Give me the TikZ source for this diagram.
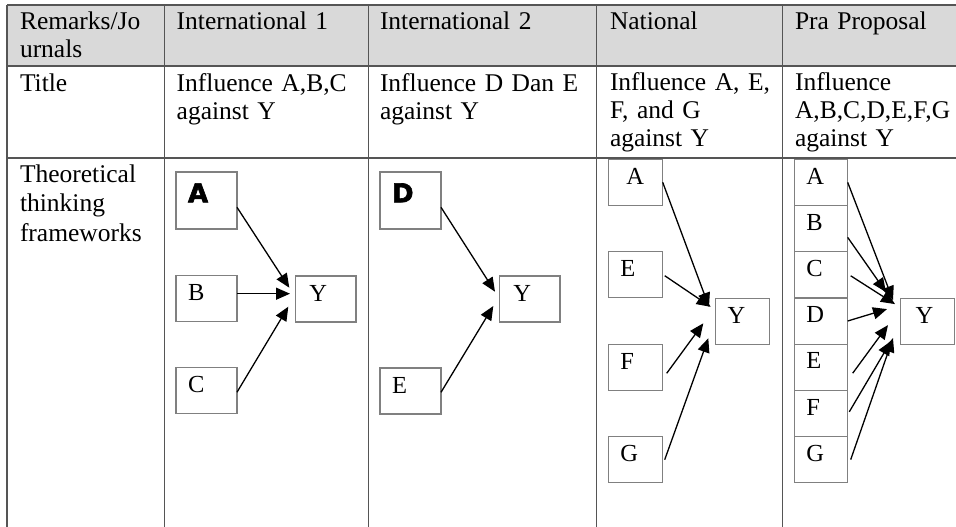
\documentclass[tikz,border=0pt]{standalone}
\usepackage{fontspec}
\setmainfont{Liberation Serif}
\newfontfamily\heavysans{DejaVu Sans}[BoldFeatures={FakeBold=2.5}]
\usetikzlibrary{arrows.meta}
\definecolor{rulegray}{HTML}{555555}
\definecolor{hdrgray}{HTML}{D9D9D9}
\definecolor{boxline}{HTML}{808080}
\tikzset{
  cell/.style={anchor=base west, inner sep=0pt, outer sep=0pt, text width=210pt, align=left,
    font=\fontsize{25.5}{27.8}\selectfont},
  vb/.style={draw=boxline, line width=1.2pt, anchor=north west, outer sep=0pt,
    inner xsep=12pt, inner ysep=0pt, text width=#1, align=left,
    text height=25pt, text depth=21pt, font=\fontsize{24.5}{28}\selectfont},
  hb/.style={vb=#1, text height=30.3pt, text depth=26.7pt, font=\heavysans\bfseries\fontsize{26}{28}\selectfont},
  sb/.style={vb=#1, text height=24.7pt, text depth=21.5pt},
  arr/.style={line width=1.3pt, -{Triangle[length=14pt,width=12pt]}},
  tline/.style={draw=rulegray, line width=1.3pt}
}
\begin{document}
\begin{tikzpicture}[x=1pt,y=-1pt]
\useasboundingbox (0,0) rectangle (956,527);
% header fill
\fill[hdrgray] (7,5) rectangle (956,66);
% table rules
\draw[tline] (7,5) -- (956,5);
\draw[tline] (7,66) -- (956,66);
\draw[tline] (7,158) -- (956,158);
\draw[tline] (7,5) -- (7,527);
\draw[tline] (164.5,5) -- (164.5,527);
\draw[tline] (368.3,5) -- (368.3,527);
\draw[tline] (596.5,5) -- (596.5,527);
\draw[tline] (782.3,5) -- (782.3,527);
% header texts
\node[cell] (h1) at (20,30) {Remarks/Jo\\urnals};
\node[cell] (h2) at (176.7,30) {International 1};
\node[cell] (h3) at (380,30) {International 2};
\node[cell] (h4) at (610,30) {National};
\node[cell] (h5) at (795,30) {Pra Proposal};
% title row
\node[cell] (t1) at (20,91.5) {Title};
\node[cell] (t2) at (176.7,91.5) {Influence A,B,C\\against Y};
\node[cell] (t3) at (380,91.5) {Influence D Dan E\\against Y};
\node[cell] (t4) at (610,91) {Influence A, E,\\F, and G\\against Y};
\node[cell] (t5) at (795,91) {Influence\\A,B,C,D,E,F,G\\against Y};
% frameworks row
\node[cell, font=\fontsize{25.5}{29.6}\selectfont] (r1) at (20,182.3) {Theoretical\\thinking\\frameworks};
% column 1
\node[hb=37pt] (a1) at (176,172) {A};
\node[vb=37pt] (b1) at (176,275.7) {B};
\node[vb=37pt] (c1) at (176,367.7) {C};
\node[vb=36.7pt] (y1) at (295.3,276) {\hspace*{2pt}Y};
% column 2
\node[hb=37pt] (d2) at (380,172) {D};
\node[vb=37pt] (e2) at (380,368) {E};
\node[vb=36.7pt] (y2) at (499.3,276) {\hspace*{2pt}Y};
% column 3
\node[vb=18.4pt, inner xsep=18pt] (a3) at (608.3,159.3) {A};
\node[vb=30.4pt] (e3) at (608.3,251.7) {E};
\node[vb=30.4pt] (f3) at (608.3,344.3) {F};
\node[vb=30.4pt] (g3) at (608.3,436.7) {G};
\node[vb=29.6pt] (y3) at (715.7,298.3) {Y};
% column 4
\node[sb=29.4pt] (a4) at (794.3,159.3) {A};
\node[sb=29.4pt] (b4) at (794.3,205.5) {B};
\node[sb=29.4pt] (c4) at (794.3,251.7) {C};
\node[sb=29.4pt] (d4) at (794.3,297.9) {D};
\node[sb=29.4pt] (e4) at (794.3,344.1) {E};
\node[sb=29.4pt] (f4) at (794.3,390.3) {F};
\node[sb=29.4pt] (g4) at (794.3,436.5) {G};
\node[vb=30pt] (y4) at (900.7,298.3) {\hspace*{3pt}Y};
% arrows column 1
\draw[arr] ([yshift=-35.3pt]a1.north east) -- ([xshift=-6pt,yshift=-11.7pt]y1.north west);
\draw[arr] ([yshift=5pt]b1.east) -- ([xshift=-5.3pt,yshift=5.3pt]y1.west);
\draw[arr] ([yshift=-1.5pt]c1.east) -- ([xshift=-7pt,yshift=-7.7pt]y1.west);
% arrows column 2
\draw[arr] ([yshift=-35.3pt]d2.north east) -- ([xshift=-4.3pt,yshift=7.3pt]y2.west);
\draw[arr] ([yshift=-1.3pt]e2.east) -- ([xshift=-6pt,yshift=-7pt]y2.west);
% arrows column 3
\draw[arr] (a3.east) -- ([xshift=-6.7pt,yshift=14.5pt]y3.west);
\draw[arr] ([xshift=2pt,yshift=-1pt]e3.east) -- ([xshift=-5pt,yshift=14.5pt]y3.west);
\draw[arr] ([xshift=4pt,yshift=-6pt]f3.east) -- ([xshift=-12.4pt,yshift=-2pt]y3.west);
\draw[arr] ([xshift=2pt]g3.east) -- ([xshift=-7.4pt,yshift=-17pt]y3.west);
% arrows column 4
\draw[arr] (a4.east) -- ([xshift=-7.7pt,yshift=21.2pt]y4.west);
\draw[arr] ([yshift=-8.8pt]b4.east) -- ([xshift=-14.7pt,yshift=29.2pt]y4.west);
\draw[arr] ([xshift=3pt,yshift=-1pt]c4.east) -- ([xshift=-5.7pt,yshift=17.2pt]y4.west);
\draw[arr] (d4.east) -- ([xshift=-13.7pt,yshift=12.2pt]y4.west);
\draw[arr] ([xshift=5pt,yshift=-6pt]e4.east) -- ([xshift=-12.7pt,yshift=-3.8pt]y4.west);
\draw[arr] ([xshift=1.6pt,yshift=1.6pt]f4.east) -- ([xshift=-9.7pt,yshift=-19.8pt]y4.west);
\draw[arr] ([xshift=3pt]g4.east) -- ([xshift=-7.7pt,yshift=-16.8pt]y4.west);
\end{tikzpicture}
\end{document}
